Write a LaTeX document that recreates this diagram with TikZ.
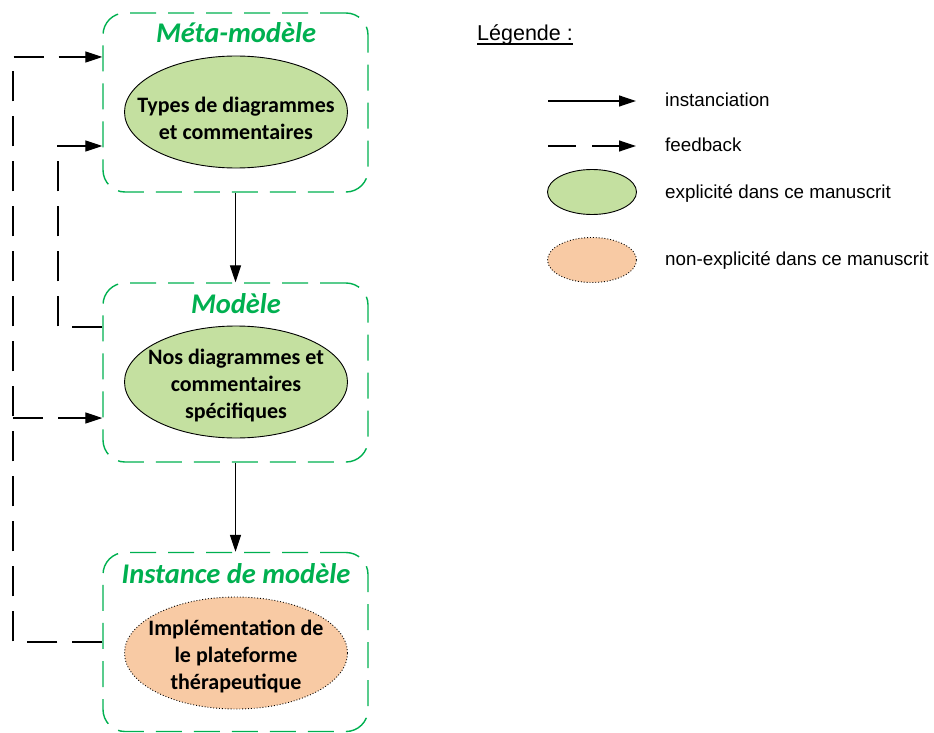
\documentclass[tikz,border=0pt]{standalone}
\usepackage{fontspec}
\usetikzlibrary{arrows.meta,shapes.geometric}
\newfontfamily\calibri{Carlito}
\newfontfamily\arialf{Liberation Sans}
\definecolor{offgreen}{HTML}{00B050}
\definecolor{lightgreen}{HTML}{C4E0A0}
\definecolor{lightorange}{HTML}{F8CAA4}
\tikzset{
  gbox/.style={draw=offgreen, line width=1.4pt, dash pattern=on 26pt off 12pt, rounded corners=22pt,
    minimum width=265pt, minimum height=179pt, inner sep=0pt},
  gtitle/.style={text=offgreen, font=\calibri\bfseries\itshape\fontsize{28.5}{33}\selectfont, anchor=base, inner sep=0pt},
  ell/.style={ellipse, draw=black, line width=0.9pt, minimum width=223pt, minimum height=112pt, inner sep=0pt},
  explicit/.style={ell, fill=lightgreen},
  nonexplicit/.style={ell, fill=lightorange, dotted},
  etext/.style={font=\calibri\bfseries\fontsize{22}{27}\selectfont, align=center, inner sep=0pt},
  inst/.style={line width=1.2pt, -{Triangle[length=17pt,width=11pt]}},
  fb/.style={line width=1.2pt, dash pattern=on 30pt off 15pt, -{Triangle[length=17pt,width=11pt]}},
  legtext/.style={font=\arialf\fontsize{18.8}{22}\selectfont, anchor=base west, inner sep=0pt},
}
\begin{document}
\begin{tikzpicture}[x=1pt,y=-1pt]
\useasboundingbox (0,0) rectangle (934,733);
% boxes
\node[gbox] (b1) at (235.5,102.5) {};
\node[gbox] (b2) at (235.5,372.5) {};
\node[gbox] (b3) at (235.5,642) {};
% titles
\node[gtitle] (t1) at (236,43) {Méta-modèle};
\node[gtitle] (t2) at (236,313) {Modèle};
\node[gtitle] (t3) at (236,583) {Instance de modèle};
% ellipses
\node[explicit] (e1) at (236,112) {};
\node[etext] (e1t) at (236,118) {Types de diagrammes\\et commentaires};
\node[explicit] (e2) at (236,382) {};
\node[etext] (e2t) at (236,386) {Nos diagrammes et\\commentaires\\spécifiques};
\node[nonexplicit] (e3) at (236,653) {};
\node[etext] (e3t) at (236,656) {Implémentation de\\le plateforme\\thérapeutique};
% instanciation arrows
\draw[inst] (b1.south) -- (b2.north);
\draw[inst] (b2.south) -- (b3.north);
% feedback
\coordinate (o1) at (13,57);
\coordinate (o2) at (13,418);
\coordinate (o3) at (58,327);
\coordinate (o4) at (58,146);
\draw[fb] (b3.west) -| (o1) -- (b1.west |- o1);
\draw[fb] (o2) -- (b2.west |- o2);
\draw[fb] (b2.west |- o3) -- (o3) |- (b1.west |- o4);
% legend
\node[font=\arialf\fontsize{21.5}{25}\selectfont, anchor=base west, inner sep=0pt] (leg) at (477,41) {Légende :};
\draw[line width=1.4pt] ([yshift=-3pt]leg.base west) -- ([yshift=-3pt]leg.base east);
\coordinate (l1a) at (548,101);
\coordinate (l1b) at (636,101);
\coordinate (l2a) at (548,146);
\coordinate (l2b) at (636,146);
\draw[inst] (l1a) -- (l1b);
\draw[line width=1.2pt, dash pattern=on 28pt off 16pt, -{Triangle[length=17pt,width=11pt]}] (l2a) -- (l2b);
\node[ell, fill=lightgreen, minimum width=89pt, minimum height=45pt] (le1) at (592,192) {};
\node[ell, fill=lightorange, dotted, minimum width=89pt, minimum height=45pt] (le2) at (592,260) {};
\node[legtext] (lt1) at (665,107) {instanciation};
\node[legtext] (lt2) at (665,152) {feedback};
\node[legtext] (lt3) at (665,198) {explicité dans ce manuscrit};
\node[legtext] (lt4) at (665,265) {non-explicité dans ce manuscrit};
\end{tikzpicture}
\end{document}
